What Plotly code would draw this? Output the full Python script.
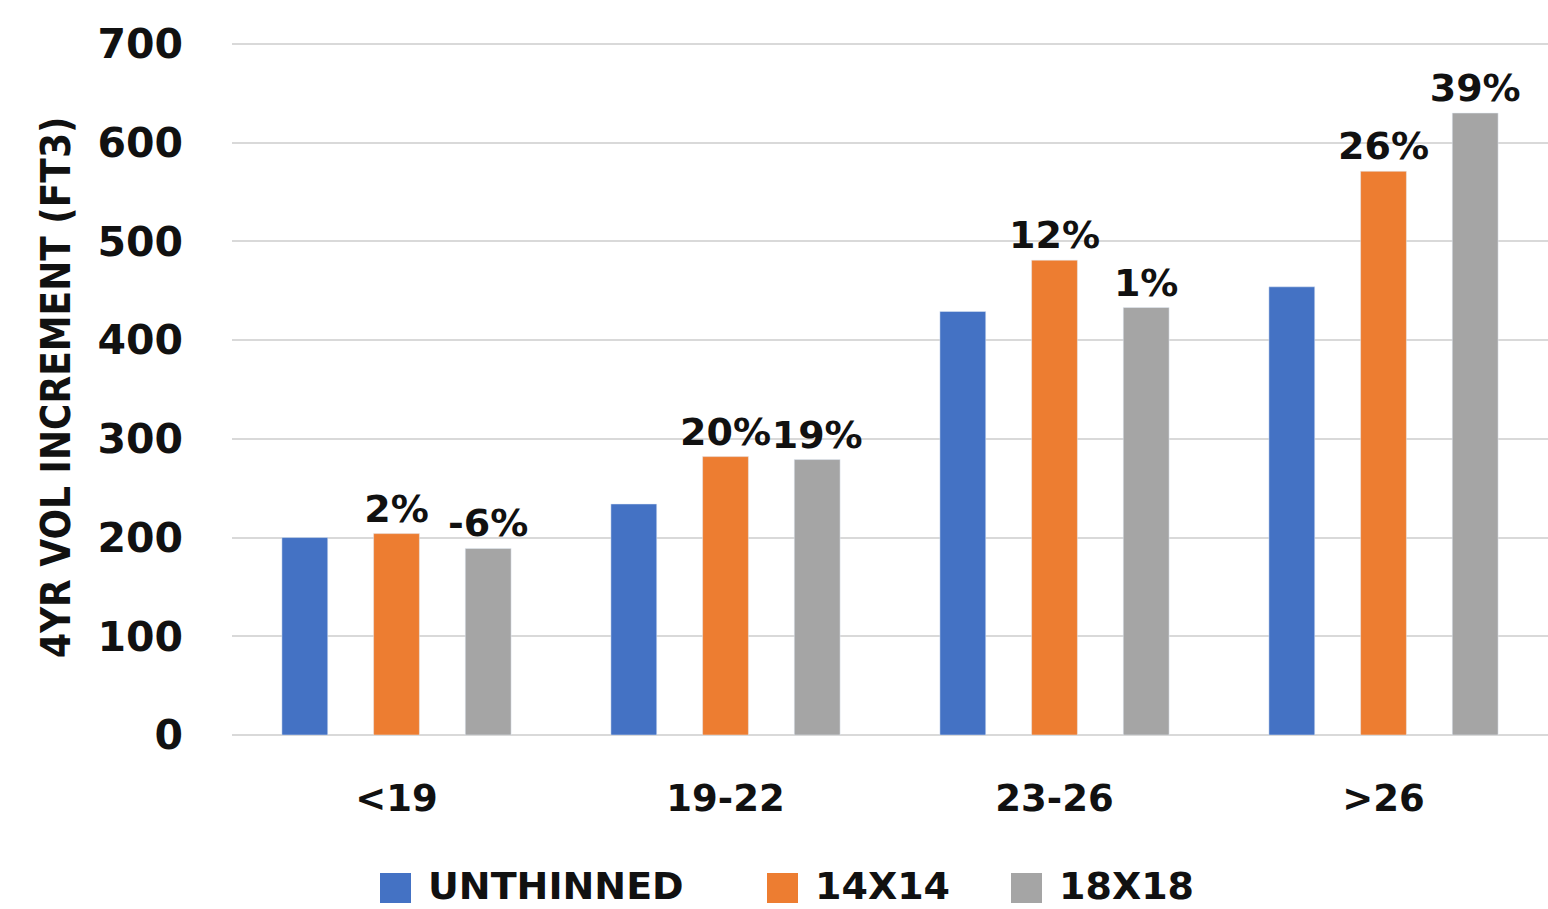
import plotly.graph_objects as go

# Diameter classes and 4-year volume increment (ft3) per thinning treatment
categories = ["<19", "19-22", "23-26", ">26"]
unthinned = [200, 234, 429, 454]
spacing_14 = [204, 282, 481, 571]
spacing_18 = [189, 279, 433, 630]

# Percent change relative to the unthinned stand
labels_14 = ["2%", "20%", "12%", "26%"]
labels_18 = ["-6%", "19%", "1%", "39%"]

series_names = ["UNTHINNED", "14X14", "18X18"]
colors = ["#4472C4", "#ED7D31", "#A5A5A5"]

W, H = 1548, 909
M_L, M_R, M_T, M_B = 232, 0, 39, 174
Y_MAX = 705
FONT = "DejaVu Sans"
NARROW = "DejaVu Sans Condensed, DejaVu Sans, sans-serif"


def px_to_paper(x, y):
    """Convert page pixel coordinates to paper coordinates."""
    pw = W - M_L - M_R
    ph = H - M_T - M_B
    return (x - M_L) / pw, (H - M_B - y) / ph


label_font = dict(family=FONT, size=38, color="#111111", weight="bold")

fig = go.Figure()
fig.add_bar(x=categories, y=unthinned, name=series_names[0],
            marker=dict(color=colors[0]), showlegend=False)
fig.add_bar(x=categories, y=spacing_14, name=series_names[1],
            marker=dict(color=colors[1]), text=labels_14,
            textposition="outside", constraintext="none", cliponaxis=False,
            textfont=label_font, showlegend=False)
fig.add_bar(x=categories, y=spacing_18, name=series_names[2],
            marker=dict(color=colors[2]), text=labels_18,
            textposition="outside", constraintext="none", cliponaxis=False,
            textfont=label_font, showlegend=False)

# Legend drawn as swatches + labels below the axis
legend_items = [
    (380, 426, series_names[0], colors[0]),
    (767, 813, series_names[1], colors[1]),
    (1011, 1057, series_names[2], colors[2]),
]
shapes = []
annotations = []
for sx, tx, name, col in legend_items:
    x0, y0 = px_to_paper(sx, 903)
    x1, y1 = px_to_paper(sx + 31, 873)
    shapes.append(dict(type="rect", xref="paper", yref="paper",
                       x0=x0, y0=y0, x1=x1, y1=y1,
                       fillcolor=col, line=dict(width=0)))
    ax, ay = px_to_paper(tx, 910)
    annotations.append(dict(text=name, xref="paper", yref="paper",
                            x=ax, y=ay, xanchor="left", yanchor="bottom",
                            showarrow=False,
                            font=dict(family=FONT, size=38, color="#111111",
                                      weight="bold")))

# Rotated y-axis title
tx, ty = px_to_paper(56, 388)
annotations.append(dict(text="4YR VOL INCREMENT (FT3)", xref="paper", yref="paper",
                        x=tx, y=ty, xanchor="center", yanchor="middle",
                        textangle=-90, showarrow=False,
                        font=dict(family=NARROW, size=40, color="#111111",
                                  weight="bold")))

fig.update_layout(
    width=W, height=H,
    margin=dict(l=M_L, r=M_R, t=M_T, b=M_B),
    paper_bgcolor="white", plot_bgcolor="white",
    barmode="group", bargap=0.164, bargroupgap=0.5,
    shapes=shapes, annotations=annotations,
    showlegend=False,
    xaxis=dict(
        tickfont=dict(family=FONT, size=37, color="#111111", weight="bold"),
        showgrid=False, showline=False, ticks="", ticklabelstandoff=38,
    ),
    yaxis=dict(
        range=[0, Y_MAX], tickvals=[0, 100, 200, 300, 400, 500, 600, 700],
        tickfont=dict(family=FONT, size=41, color="#111111", weight="bold"),
        showgrid=True, gridcolor="#D9D9D9", gridwidth=2,
        zeroline=True, zerolinecolor="#D9D9D9", zerolinewidth=2,
        showline=False, ticks="", ticklabelstandoff=48,
    ),
)

fig.write_html("out.html")
